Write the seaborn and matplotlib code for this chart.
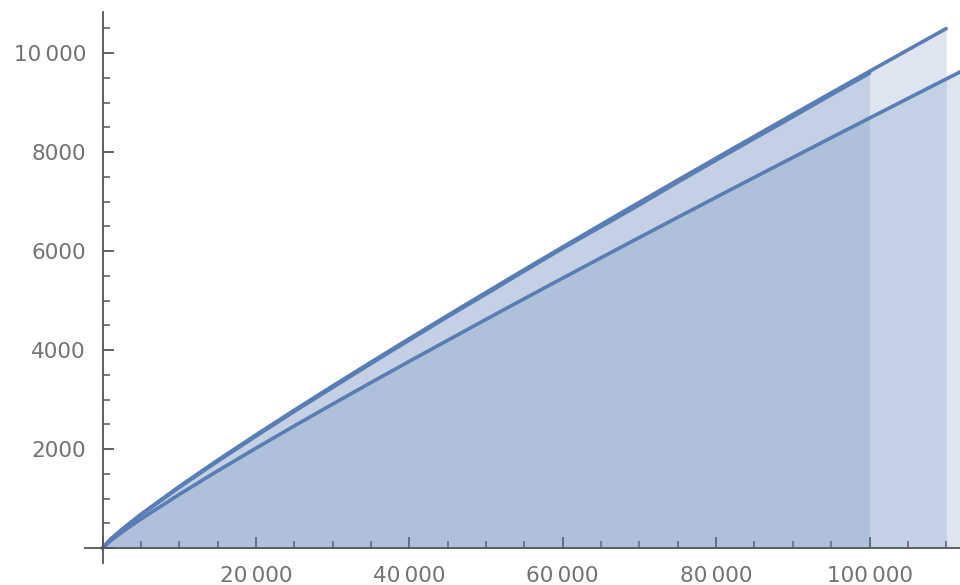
import matplotlib
matplotlib.use("Agg")
import matplotlib.pyplot as plt
from matplotlib.ticker import MultipleLocator, FuncFormatter
import seaborn as sns

# prime counting function (stops at 100 000)
x_pi = [0, 1000, 2500, 5000, 10000, 15000, 20000, 25000, 30000, 35000, 40000, 45000,
        50000, 55000, 60000, 65000, 70000, 75000, 80000, 85000, 90000, 95000, 100000]
y_pi = [0, 168, 367, 669, 1229, 1754, 2262, 2762, 3245, 3728, 4203, 4675,
        5133, 5598, 6057, 6493, 6935, 7393, 7837, 8275, 8713, 9157, 9592]

# upper smooth curve (stops at 110 000)
x_li = [0, 1000, 2500, 5000, 10000, 15000, 20000, 25000, 30000, 35000, 40000, 45000,
        50000, 55000, 60000, 65000, 70000, 75000, 80000, 85000, 90000, 95000, 100000,
        105000, 110000]
y_li = [0, 178, 378, 685, 1246, 1776, 2288, 2787, 3276, 3757, 4232, 4701,
        5165, 5627, 6083, 6536, 6986, 7433, 7877, 8319, 8758, 9195, 9630,
        10063, 10495]

# lower smooth curve (runs past the right edge)
x_xl = [0, 1000, 2500, 5000, 10000, 15000, 20000, 25000, 30000, 35000, 40000, 45000,
        50000, 55000, 60000, 65000, 70000, 75000, 80000, 85000, 90000, 95000, 100000,
        105000, 110000, 115000]
y_xl = [0, 145, 320, 587, 1086, 1560, 2019, 2469, 2910, 3345, 3774, 4198,
        4621, 5039, 5454, 5866, 6275, 6682, 7087, 7490, 7890, 8289, 8686,
        9082, 9476, 9868]

sns.set_style("white")
plt.rcParams['font.family'] = ['DejaVu Sans']

line_col = '#5A7DB3'
fill_col = '#5E81B5'
axis_col = '#555555'

fig = plt.figure(figsize=(9.6, 5.85), dpi=100)
ax = fig.add_axes([0.0885, 0.0376, 0.9115, 0.942])

for xs, ys in [(x_pi, y_pi), (x_li, y_li), (x_xl, y_xl)]:
    ax.fill_between(xs, 0, ys, color=fill_col, alpha=0.2, linewidth=0)
    sns.lineplot(x=xs, y=ys, ax=ax, color=line_col, linewidth=2.6, sort=False)

ax.set_xlim(-2300, 111800)
ax.set_ylim(-300, 10830)

ax.spines['left'].set_position(('data', 0))
ax.spines['bottom'].set_position(('data', 0))
ax.spines['right'].set_visible(False)
ax.spines['top'].set_visible(False)
for s in ['left', 'bottom']:
    ax.spines[s].set_color(axis_col)
    ax.spines[s].set_linewidth(1.3)

def fmt(v, pos):
    v = int(round(v))
    if v <= 0:
        return ''
    if v >= 10000:
        return f"{v // 1000}\u2009{v % 1000:03d}"
    return str(v)

ax.xaxis.set_major_locator(MultipleLocator(20000))
ax.xaxis.set_minor_locator(MultipleLocator(5000))
ax.yaxis.set_major_locator(MultipleLocator(2000))
ax.yaxis.set_minor_locator(MultipleLocator(500))
ax.xaxis.set_major_formatter(FuncFormatter(fmt))
ax.yaxis.set_major_formatter(FuncFormatter(fmt))

ax.tick_params(axis='both', which='major', direction='in', length=8, width=1.3,
               color=axis_col, labelsize=15.5, labelcolor='#727272')
ax.tick_params(axis='both', which='minor', direction='in', length=5, width=1.1,
               color=axis_col)
ax.tick_params(axis='y', which='major', pad=12)
ax.tick_params(axis='x', which='major', pad=13)
ax.tick_params(axis='y', which='both', left=True, right=False)
ax.tick_params(axis='x', which='both', bottom=True, top=False)

ax.set_xlabel('')
ax.set_ylabel('')

fig.savefig('out.png', dpi=100)
